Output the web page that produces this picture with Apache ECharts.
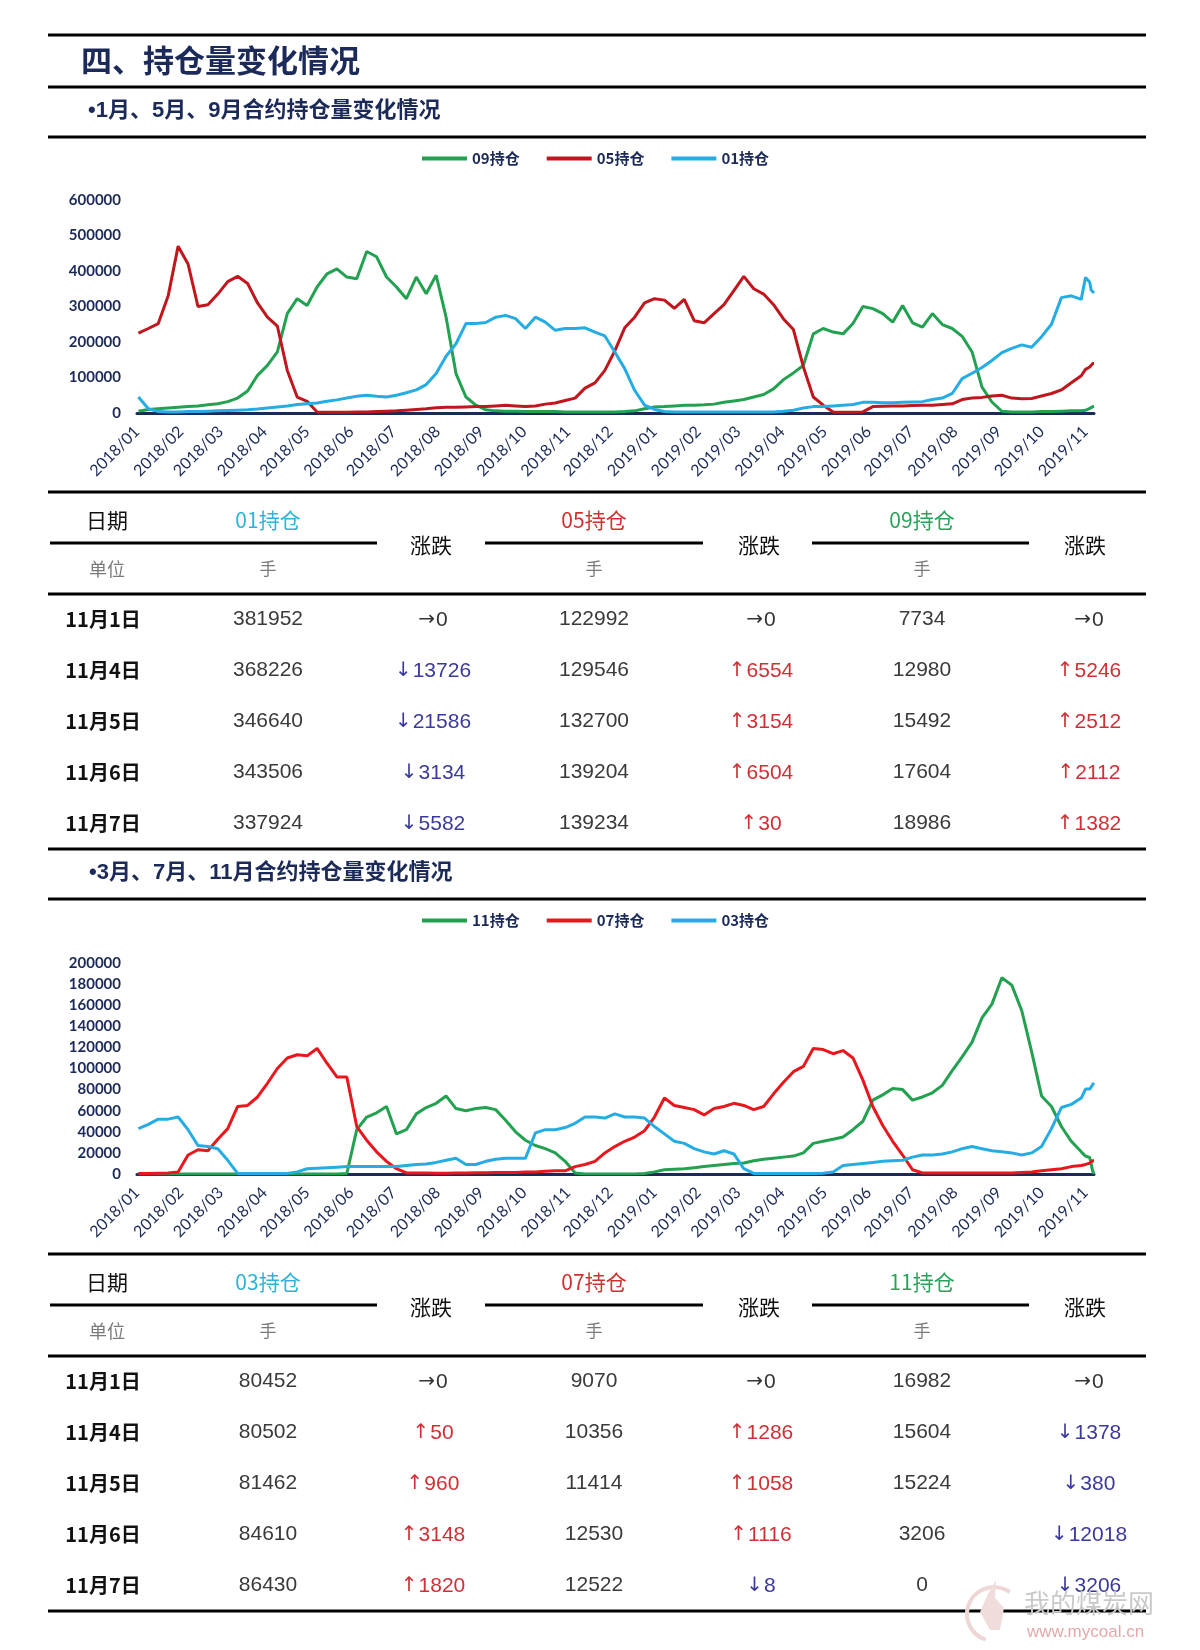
<!DOCTYPE html>
<html>
<head>
<meta charset="utf-8">
<script src="https://cdn.jsdelivr.net/npm/echarts@6.0.0/dist/echarts.min.js"></script>
<style>
html,body{margin:0;padding:0;background:#fff;}
#page{width:1200px;height:1650px;}
</style>
</head>
<body>
<div id="page"></div>
<script>
// ---------------- DATA ----------------
const dates = [
'2018-01-02','2018-01-09','2018-01-16','2018-01-23','2018-01-30','2018-02-06','2018-02-13','2018-02-20','2018-02-27','2018-03-06',
'2018-03-13','2018-03-20','2018-03-27','2018-04-03','2018-04-10','2018-04-17','2018-04-24','2018-05-01','2018-05-08','2018-05-15',
'2018-05-22','2018-05-29','2018-06-05','2018-06-12','2018-06-19','2018-06-26','2018-07-03','2018-07-10','2018-07-17','2018-07-24',
'2018-07-31','2018-08-07','2018-08-14','2018-08-21','2018-08-28','2018-09-04','2018-09-11','2018-09-18','2018-09-25','2018-10-02',
'2018-10-09','2018-10-16','2018-10-23','2018-10-30','2018-11-06','2018-11-13','2018-11-20','2018-11-27','2018-12-04','2018-12-11',
'2018-12-18','2018-12-25','2019-01-01','2019-01-08','2019-01-15','2019-01-22','2019-01-29','2019-02-05','2019-02-12','2019-02-19',
'2019-02-26','2019-03-05','2019-03-12','2019-03-19','2019-03-26','2019-04-02','2019-04-09','2019-04-16','2019-04-23','2019-04-30',
'2019-05-07','2019-05-14','2019-05-21','2019-05-28','2019-06-04','2019-06-11','2019-06-18','2019-06-25','2019-07-02','2019-07-09',
'2019-07-16','2019-07-23','2019-07-30','2019-08-06','2019-08-13','2019-08-20','2019-08-27','2019-09-03','2019-09-10','2019-09-17',
'2019-09-24','2019-10-01','2019-10-08','2019-10-15','2019-10-22','2019-10-29',
'2019-11-01','2019-11-04','2019-11-05','2019-11-06','2019-11-07'
];

const tickLabels = ['2018/01','2018/02','2018/03','2018/04','2018/05','2018/06','2018/07','2018/08','2018/09','2018/10','2018/11','2018/12',
'2019/01','2019/02','2019/03','2019/04','2019/05','2019/06','2019/07','2019/08','2019/09','2019/10','2019/11'];

// chart 1 : 09 / 05 / 01
const s09 = [
5000,10000,12000,14000,16000,18000,20000,23000,26000,32000,
42000,62000,106000,134000,172000,280000,322000,303000,355000,392000,
406000,383000,378000,455000,440000,383000,355000,322000,383000,336000,
388000,270000,111000,45000,22000,9000,6000,5000,5000,4000,
4000,4000,4000,3000,3000,3000,3000,3000,3000,4000,
6000,12000,17000,18000,20000,22000,22000,23000,25000,30000,
34000,38000,45000,52000,68000,94000,113000,134000,223000,238000,
228000,223000,252000,300000,294000,280000,256000,303000,254000,242000,
280000,249000,238000,216000,172000,73000,31000,5000,3000,3000,
3000,4000,4000,5000,6000,6500,
7734,12980,15492,17604,18986];
const s05 = [
225000,238000,252000,330000,470000,420000,300000,305000,335000,370000,
385000,365000,310000,270000,245000,120000,45000,33000,3000,2000,
2000,2000,3000,3000,4000,5000,6000,8000,10000,12000,
15000,16000,16000,17000,18000,18000,20000,22000,20000,18000,
20000,25000,28000,35000,42000,70000,85000,120000,175000,240000,
270000,310000,322000,318000,295000,320000,260000,254000,280000,305000,
345000,385000,350000,335000,305000,265000,235000,130000,45000,22000,
3000,2000,2000,3000,18000,19000,20000,20000,21000,22000,
22000,24000,26000,38000,42000,44000,48000,50000,42000,40000,
41000,48000,55000,65000,85000,105000,
122992,129546,132700,139204,139234];
const s01 = [
45000,12000,4000,3000,3000,4000,4000,5000,6000,7000,
8000,9000,11000,14000,17000,20000,24000,26000,28000,33000,
37000,42000,47000,50000,47000,45000,50000,57000,65000,80000,
111000,160000,195000,252000,252000,255000,270000,275000,266000,238000,
270000,256000,233000,238000,238000,240000,228000,217000,172000,125000,
64000,22000,10000,4000,3000,3000,3000,3000,3000,3000,
3000,3000,3000,3000,3000,5000,8000,14000,18000,18000,
20000,22000,24000,30000,30000,29000,29000,30000,31000,32000,
38000,42000,55000,97000,112000,128000,148000,170000,182000,192000,
185000,215000,250000,325000,330000,320000,
381952,368226,346640,343506,337924];

// chart 2 : 11 / 07 / 03
const s11 = [
0,0,0,0,0,0,0,0,0,0,
0,0,0,0,0,0,0,0,0,0,
0,500,42000,54000,58000,64000,38000,42000,57000,63000,
67000,74000,62000,60000,62000,63000,61000,51000,40000,32000,
27000,24000,20000,12000,1000,0,0,0,0,0,
0,500,2000,4000,4500,5000,6000,7000,8000,9000,
10000,10500,12500,14000,15000,16000,17000,20000,29000,31000,
33000,35000,42000,50000,70000,75000,81000,80000,70000,73000,
77000,84000,98000,111000,125000,148000,161000,186000,179000,155000,
116000,74000,64000,45000,31000,21000,
16982,15604,15224,3206,0];
const s07 = [
500,500,800,1000,2000,18000,23000,22000,33000,43000,
64000,65000,73000,86000,100000,110000,113000,112000,119000,105000,
92000,92000,45000,32000,21000,12000,5000,1000,1000,1000,
800,800,1000,1000,1200,1200,1500,1500,1500,2000,
2000,2500,3000,3000,7000,9000,12000,20000,26000,31000,
35000,41000,54000,72000,65000,63000,61000,56000,62000,64000,
67000,65000,61000,64000,76000,87000,97000,102000,119000,118000,
114000,117000,110000,89000,64000,46000,31000,18000,4000,1000,
1000,1000,1000,1000,1000,1000,1000,1000,1000,1500,
2000,3000,4000,5000,7000,8000,
9070,10356,11414,12530,12522];
const s03 = [
43000,47000,52000,52000,54000,42000,27000,26000,24000,13000,
500,500,500,500,500,500,2000,5000,5500,6000,
6500,7000,7000,7000,7000,7000,7000,8000,9000,9500,
11000,13000,15000,9000,9000,12000,14000,15000,15000,15000,
39000,42000,42000,44000,48000,54000,54000,53000,57000,54000,
54000,53000,45000,38000,31000,29000,24000,21000,19000,22000,
19000,5000,500,500,500,500,500,500,500,800,
2000,8000,9000,10000,11000,12000,12500,13000,16000,18000,
18000,19000,21000,24000,26000,24000,22000,21000,20000,18000,
20000,26000,43000,63000,66000,72000,
80452,80502,81462,84610,86430];

// tables
const tableDays = ['11月1日','11月4日','11月5日','11月6日','11月7日'];
const t01 = [381952,368226,346640,343506,337924];
const t01chg = [0,-13726,-21586,-3134,-5582];
const t05 = [122992,129546,132700,139204,139234];
const t05chg = [0,6554,3154,6504,30];
const t09 = [7734,12980,15492,17604,18986];
const t09chg = [0,5246,2512,2112,1382];
const t03 = [80452,80502,81462,84610,86430];
const t03chg = [0,50,960,3148,1820];
const t07 = [9070,10356,11414,12530,12522];
const t07chg = [0,1286,1058,1116,-8];
const t11 = [16982,15604,15224,3206,0];
const t11chg = [0,-1378,-380,-12018,-3206];

// ---------------- STYLE ----------------
const NAVY = '#1c2a5a';
const GREEN = '#22a150';
const DARKRED = '#c0161d';
const RED = '#e8171d';
const BLUE = '#25ade3';
const CJK = '"Noto Sans CJK SC", sans-serif';
const LATCJK = '"Liberation Sans", "Noto Sans CJK SC", sans-serif';
const NUM = '"Liberation Sans", "Noto Sans CJK SC", sans-serif';

function toTime(s) { const p = s.split(/[-\/]/).map(Number); return new Date(p[0], p[1] - 1, p[2] || 1).getTime(); }
const monthTicks = tickLabels.map(toTime);
const xMin = toTime('2018-01-01');
const xMax = toTime('2019-11-07');

function pairs(arr) { return dates.map((d, i) => [toTime(d), arr[i]]); }

function xAxisCfg(gi) {
  return {
    type: 'value', gridIndex: gi, min: xMin, max: xMax,
    axisLine: { show: true, onZero: false, lineStyle: { color: NAVY, width: 3 } },
    axisTick: { show: false, customValues: monthTicks },
    splitLine: { show: false },
    axisLabel: {
      customValues: monthTicks, rotate: 45, margin: 16,
      color: NAVY, fontSize: 16, fontFamily: 'Lato, sans-serif',
      formatter: function (v) {
        let best = 0, bd = Infinity;
        for (let i = 0; i < monthTicks.length; i++) { const dd = Math.abs(monthTicks[i] - v); if (dd < bd) { bd = dd; best = i; } }
        return tickLabels[best];
      }
    }
  };
}
function yAxisCfg(gi, max, interval) {
  return {
    type: 'value', gridIndex: gi, min: 0, max: max, interval: interval,
    axisLine: { show: false }, axisTick: { show: false }, splitLine: { show: false },
    axisLabel: { margin: 16, color: NAVY, fontSize: 15, fontWeight: 'bold', fontFamily: 'Lato, sans-serif',
      formatter: function (v) { return String(v); } }
  };
}
function lineSeries(name, arr, color, gi) {
  return {
    name: name, type: 'line', xAxisIndex: gi, yAxisIndex: gi, data: pairs(arr),
    showSymbol: false, symbol: 'none', smooth: false,
    lineStyle: { color: color, width: 3 }, itemStyle: { color: color }
  };
}
function legendCfg(names, top) {
  return {
    data: names, left: 417, top: top, icon: 'rect', itemWidth: 45, itemHeight: 4, itemGap: 27,
    textStyle: { color: NAVY, fontSize: 15, fontWeight: 'bold', fontFamily: CJK }, selectedMode: false
  };
}

// ---------------- GRAPHICS (titles, rules, tables) ----------------
const G = [];
function hline(y, x1, x2, w) { G.push({ type: 'line', shape: { x1: x1, y1: y, x2: x2, y2: y }, style: { stroke: '#000', lineWidth: w || 3 }, silent: true }); }
function txt(t, x, y, font, fill, align, rich) {
  const st = { text: t, x: x, y: y, font: font, fill: fill, textAlign: align || 'center', textVerticalAlign: 'middle', align: align || 'center', verticalAlign: 'middle' };
  if (rich) st.rich = rich;
  G.push({ type: 'text', x: 0, y: 0, silent: true, style: st });
}
function chgColor(v) { return v === 0 ? '#333333' : (v > 0 ? '#cf3035' : '#3b3a9c'); }
function chgRich(v) {
  const col = chgColor(v);
  const arrow = v === 0 ? '→' : (v > 0 ? '↑' : '↓');
  return {
    text: '{a|' + arrow + '}{n|' + Math.abs(v) + '}',
    rich: {
      a: { fontFamily: 'DejaVu Sans', fontSize: 20, fill: col, color: col, padding: [0, 1, 0, 0] },
      n: { fontFamily: NUM, fontSize: 21, fill: col, color: col }
    }
  };
}

hline(35, 48, 1146);
txt('四、持仓量变化情况', 81, 60, 'bold 31px ' + CJK, NAVY, 'left');
hline(87, 48, 1146);
txt('•1月、5月、9月合约持仓量变化情况', 88, 111, 'bold 22px ' + LATCJK, NAVY, 'left');
hline(137, 48, 1146);
txt('•3月、7月、11月合约持仓量变化情况', 89, 873, 'bold 22px ' + LATCJK, NAVY, 'left');
hline(899, 48, 1146);

function table(off, heads, headColors, vals, chgs) {
  hline(492 + off, 48, 1146);
  txt('日期', 107, 520 + off, '21px ' + CJK, '#111');
  const cx = [268, 594, 922], chx = [433, 761, 1089], mx = [431, 759, 1085];
  for (let c = 0; c < 3; c++) {
    txt(heads[c], cx[c], 520 + off, '21px ' + CJK, headColors[c]);
    txt('涨跌', mx[c], 545 + off, '21px ' + CJK, '#111');
    txt('手', cx[c], 569 + off, '17px ' + CJK, '#7a7a7a');
  }
  hline(543 + off, 50, 377); hline(543 + off, 485, 703); hline(543 + off, 812, 1029);
  txt('单位', 107, 569 + off, '18px ' + CJK, '#7a7a7a');
  hline(594 + off, 48, 1146);
  for (let r = 0; r < tableDays.length; r++) {
    const y = 619 + off + r * 51;
    txt(tableDays[r], 103, y, 'bold 20px ' + CJK, '#111');
    for (let c = 0; c < 3; c++) {
      txt(String(vals[c][r]), cx[c], y, '21px ' + NUM, '#3a3a3a');
      const cr = chgRich(chgs[c][r]);
      txt(cr.text, chx[c], y + 1, '21px ' + NUM, chgColor(chgs[c][r]), 'center', cr.rich);
    }
  }
  hline(849 + off, 48, 1146);
}
table(0, ['01持仓', '05持仓', '09持仓'], ['#2fb1da', '#d0312f', '#28a35a'], [t01, t05, t09], [t01chg, t05chg, t09chg]);
table(762, ['03持仓', '07持仓', '11持仓'], ['#2fb1da', '#d0312f', '#28a35a'], [t03, t07, t11], [t03chg, t07chg, t11chg]);

// watermark
G.push({ type: 'arc', silent: true, shape: { cx: 994, cy: 1614, r: 27, startAngle: Math.PI * 0.6, endAngle: Math.PI * 1.7 }, style: { stroke: '#eed6d6', lineWidth: 4, fill: null } });
G.push({ type: 'polygon', silent: true, shape: { points: [[990, 1630], [980, 1612], [988, 1594], [996, 1580], [995, 1598], [1004, 1608], [1000, 1630]] }, style: { fill: '#f1dcdc' } });
txt('我的煤炭网', 1024, 1603, '26px ' + CJK, '#c9c9c9', 'left');
txt('www.mycoal.cn', 1027, 1632, '17px ' + NUM, '#e3a9a9', 'left');

// ---------------- CHART ----------------
const chart = echarts.init(document.getElementById('page'), null, { renderer: 'canvas', width: 1200, height: 1650 });
chart.setOption({
  animation: false,
  backgroundColor: '#ffffff',
  grid: [
    { left: 137, top: 200, width: 957, height: 213 },
    { left: 137, top: 963, width: 957, height: 211 }
  ],
  xAxis: [xAxisCfg(0), xAxisCfg(1)],
  yAxis: [yAxisCfg(0, 600000, 100000), yAxisCfg(1, 200000, 20000)],
  legend: [legendCfg(['09持仓', '05持仓', '01持仓'], 146), legendCfg(['11持仓', '07持仓', '03持仓'], 908)],
  series: [
    lineSeries('09持仓', s09, GREEN, 0),
    lineSeries('05持仓', s05, DARKRED, 0),
    lineSeries('01持仓', s01, BLUE, 0),
    lineSeries('11持仓', s11, GREEN, 1),
    lineSeries('07持仓', s07, RED, 1),
    lineSeries('03持仓', s03, BLUE, 1)
  ],
  graphic: G
});
</script>
</body>
</html>
